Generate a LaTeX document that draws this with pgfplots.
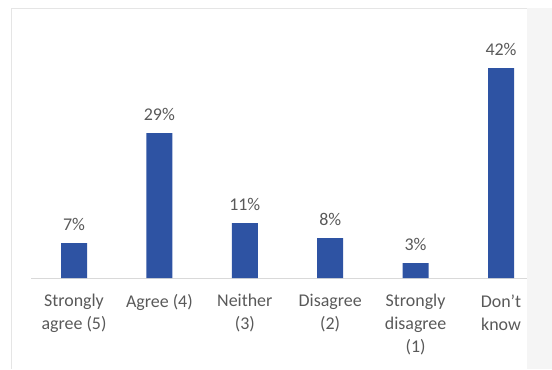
\documentclass[border=0pt]{standalone}
\usepackage{fontspec}
\setmainfont{Carlito}
\usepackage{pgfplots}
\pgfplotsset{compat=1.18}
\definecolor{barblue}{HTML}{2E53A3}
\definecolor{txtgray}{HTML}{595959}
\definecolor{axgray}{HTML}{D9D9D9}
\begin{document}
\begin{tikzpicture}[x=1bp,y=1bp]
\begin{axis}[
  name=ax,
  at={(31.3bp,-278bp)}, anchor=south west,
  scale only axis,
  width=512.4bp, height=250bp,
  xmin=-0.5, xmax=5.5, ymin=0, ymax=50,
  hide y axis,
  axis x line*=bottom,
  x axis line style={-, draw=axgray, line width=0.8bp},
  major tick length=0pt,
  xtick={0,1,2,3,4,5},
  xticklabels={{Strongly\\agree (5)},{Agree (4)},{Neither\\(3)},{Disagree\\(2)},{Strongly\\disagree\\(1)},{Don't\\know}},
  xticklabel style={font=\fontsize{18}{23}\selectfont, text=txtgray, align=center, yshift=-13bp},
  /pgf/number format/assume math mode=true,
  nodes near coords={\pgfmathprintnumber{\pgfplotspointmeta}\%},
  every node near coord/.append style={font=\fontsize{18}{22}\selectfont, text=txtgray, yshift=9bp},
  ybar, bar width=26bp,
]
\addplot[fill=barblue, draw=none] coordinates {(0,7) (1,29) (2,11) (3,8) (4,3) (5,42)};
\end{axis}
\pgfresetboundingbox
\path[use as bounding box] (0,0) rectangle (552,-369);
\fill[black!4] (527,-8) rectangle (552,-369);
\draw[black!10, line width=1bp] (11,-369) -- (11,-8) -- (527,-8);
\end{tikzpicture}
\end{document}
